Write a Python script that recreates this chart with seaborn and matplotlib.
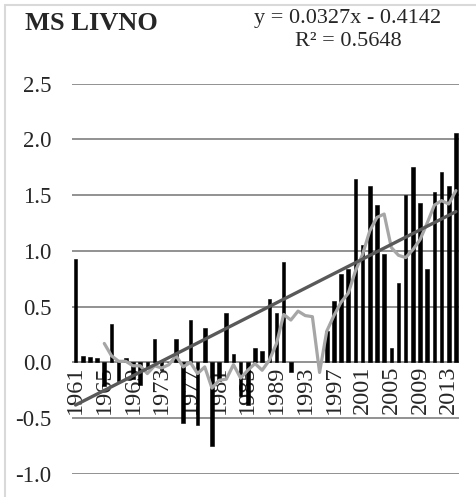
import numpy as np
import pandas as pd
import seaborn as sns
import matplotlib.pyplot as plt
from matplotlib.lines import Line2D

# yearly anomalies (1992-1995 have no data)
years = list(range(1961, 2015))
anomaly = [0.93, 0.06, 0.05, 0.04, -0.21, 0.34, -0.17, 0.04, -0.15, -0.20,
           -0.04, 0.21, -0.07, 0.00, 0.21, -0.54, 0.38, -0.56, 0.31, -0.75,
           -0.17, 0.44, 0.08, -0.30, -0.38, 0.13, 0.10, 0.57, 0.44, 0.90,
           -0.09, np.nan, np.nan, np.nan, np.nan, 0.28, 0.55, 0.79, 0.84, 1.64,
           1.05, 1.58, 1.41, 0.97, 0.13, 0.71, 1.50, 1.75, 1.43, 0.84,
           1.53, 1.71, 1.58, 2.06]
# 5-year moving average (grey line)
moving_avg = [np.nan, np.nan, np.nan, np.nan, 0.17, 0.06, 0.01, 0.01, -0.03, -0.03,
              -0.10, -0.03, -0.05, -0.02, 0.06, -0.04, 0.00, -0.10, -0.04, -0.23,
              -0.16, -0.15, -0.02, -0.14, -0.07, -0.01, -0.07, 0.02, 0.17, 0.43,
              0.38, 0.46, 0.42, 0.41, -0.09, 0.28, 0.42, 0.54, 0.62, 0.82,
              0.97, 1.18, 1.30, 1.33, 1.03, 0.96, 0.94, 1.01, 1.10, 1.25,
              1.41, 1.45, 1.42, 1.54]
trend_slope = 0.0327
trend_icept = -0.4142
yticks = [-1.0, -0.5, 0.0, 0.5, 1.0, 1.5, 2.0, 2.5]
xlabel_years = list(range(1961, 2015, 4))

sns.set_style('white')
plt.rcParams['font.family'] = ['Liberation Serif', 'DejaVu Serif']

df = pd.DataFrame({'year': years, 'anomaly': anomaly, 'ma': moving_avg})
df['pos'] = np.arange(len(df))
df['trend'] = trend_slope * (df['pos'] + 1) + trend_icept

W, H = 477, 497
fig = plt.figure(figsize=(W / 100, H / 100), dpi=100)
ax = fig.add_axes([72 / W, 1 - 474 / H, (459.5 - 72) / W, (474 - 83.5) / H])

sns.barplot(data=df, x='year', y='anomaly', order=years, color='black',
            saturation=1, width=0.5, errorbar=None, ax=ax, zorder=2,
            edgecolor='black', linewidth=0.4)
sns.lineplot(data=df, x='pos', y='ma', color='#A6A6A6', lw=2.3, ax=ax, zorder=3)
sns.lineplot(data=df, x='pos', y='trend', color='#595959', lw=2.4, ax=ax, zorder=4)

# x axis crosses at zero, as in the spreadsheet chart
ax.spines['bottom'].set_position(('data', 0))
for s in ax.spines.values():
    s.set_visible(False)

ax.set_xlim(-0.5, len(years) - 0.5)
ax.set_ylim(-1.0, 2.5)
ax.set_yticks(yticks)
ax.set_yticklabels([f'{t:.1f}' for t in yticks], fontsize=16.5)
ax.yaxis.grid(True, color='#7F7F7F', lw=1.2)
ax.set_axisbelow(True)
ax.set_xlabel('')
ax.set_ylabel('')

ax.set_xticks([years.index(y) for y in xlabel_years])
ax.set_xticklabels([str(y) for y in xlabel_years], rotation=90, fontsize=17.5)
ax.tick_params(axis='x', length=0, pad=2)
ax.tick_params(axis='y', length=0, pad=15)

fig.text(25 / W, 1 - 23 / H, 'MS LIVNO', fontsize=19, fontweight='bold',
         ha='left', va='center')
fig.text(348 / W, 1 - 18 / H, 'y = 0.0327x - 0.4142', fontsize=16,
         ha='center', va='center')
fig.text(348 / W, 1 - 41 / H, 'R² = 0.5648', fontsize=16,
         ha='center', va='center')

# chart area border (only the left and top edges show in the crop)
fig.add_artist(Line2D([5.5 / W, 5.5 / W], [0, 1 - 5 / H], color='#D9D9D9', lw=1.5))
fig.add_artist(Line2D([5.5 / W, 1], [1 - 5 / H, 1 - 5 / H], color='#D9D9D9', lw=1.5))

fig.savefig('out.png', dpi=100)
